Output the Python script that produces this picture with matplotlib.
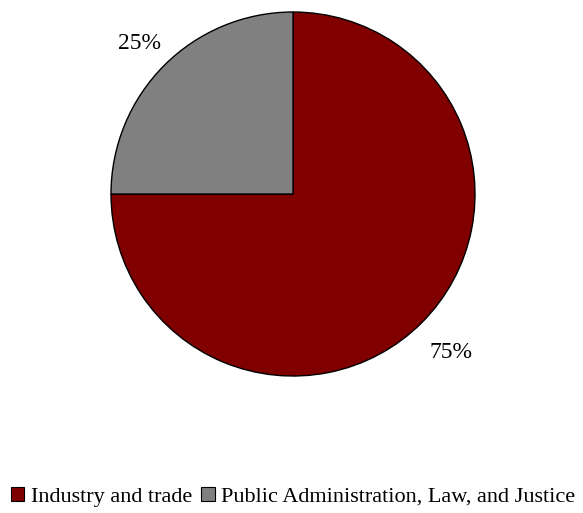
import matplotlib.pyplot as plt
from matplotlib.patches import Patch

labels = ['Industry and trade', 'Public Administration, Law, and Justice']
shares = [75, 25]
colors = ['#800000', '#808080']

plt.rcParams['font.family'] = ['Liberation Serif', 'DejaVu Serif']

fig = plt.figure(figsize=(5.83, 5.13), dpi=100)
ax = fig.add_axes([0.1904, 0.267, 0.6244, 0.7096])

wedges, texts, autotexts = ax.pie(shares, colors=colors, startangle=90,
                                  counterclock=False, autopct='%d%%',
                                  pctdistance=1.23, radius=1,
                                  wedgeprops=dict(edgecolor='black', linewidth=1))
for t in autotexts:
    t.set_fontsize(17)
# the small label sits a bit closer to the pie
x, y = autotexts[1].get_position()
autotexts[1].set_position((x * 1.19 / 1.23, y * 1.17 / 1.23))
ax.set_xlim(-1, 1)
ax.set_ylim(-1, 1)
ax.set_aspect('equal')

handles = [Patch(facecolor=c, edgecolor='black', linewidth=0.8) for c in colors]
fig.legend(handles, labels, loc='center', bbox_to_anchor=(0.503, 0.031),
           ncol=2, frameon=False, fontsize=16, handlelength=0.6,
           handleheight=0.6, handletextpad=0.3, columnspacing=0.4)

fig.savefig('out.png', dpi=100)
